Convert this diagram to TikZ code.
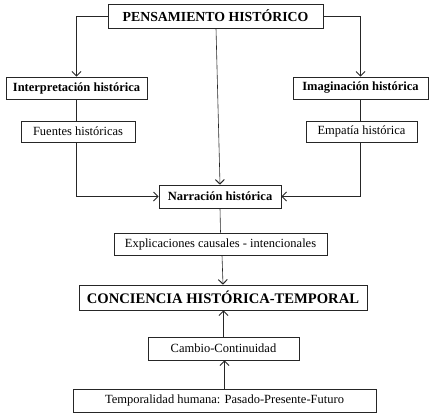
\documentclass[tikz,border=0pt]{standalone}
\usepackage{fontspec}
\setmainfont{Liberation Serif}
\usetikzlibrary{arrows.meta}
\begin{document}
\begin{tikzpicture}[x=1pt,y=-1pt,
  box/.style={draw=black!85,line width=0.6pt,inner sep=0pt,align=center},
  nf/.style={font=\fontsize{12.5}{14}\selectfont},
  bf/.style={font=\fontsize{12.5}{14}\selectfont\bfseries},
  arr/.style={draw=black!85,line width=0.6pt,-{Straight Barb[length=4.5pt,width=9pt,line width=1pt]}},
  ln/.style={draw=black!85,line width=0.6pt}]
\useasboundingbox (0,0) rectangle (435,418);
\node[box,minimum width=215pt,minimum height=24pt,font=\fontsize{13.8}{15}\selectfont\bfseries] (P) at (215.5,16) {PENSAMIENTO HISTÓRICO};
\node[box,bf,minimum width=141pt,minimum height=22pt] (I) at (76.5,88) {Interpretación histórica};
\node[box,nf,minimum width=114pt,minimum height=21pt] (F) at (78,131.5) {Fuentes históricas};
\node[box,bf,minimum width=135pt,minimum height=22pt] (M) at (360.5,88) {Imaginación histórica};
\node[box,nf,minimum width=111pt,minimum height=21pt] (E) at (361.5,131.5) {Empatía histórica};
\node[box,bf,minimum width=122pt,minimum height=23pt] (N) at (220,196.5) {Narración histórica};
\node[box,nf,minimum width=213pt,minimum height=22pt] (X) at (220.5,244) {Explicaciones causales - intencionales};
\node[box,minimum width=288pt,minimum height=25pt,font=\fontsize{14.6}{16}\selectfont\bfseries] (C) at (223,297.5) {CONCIENCIA HISTÓRICA-TEMPORAL};
\node[box,nf,minimum width=151pt,minimum height=23pt] (B) at (223.5,348.5) {Cambio-Continuidad};
\node[box,nf,minimum width=303pt,minimum height=23pt] (T) at (224.5,400.5) {Temporalidad humana: Pasado-Presente-Futuro};
\draw[arr] (P.west) -| (I.north);
\draw[ln] (I.south) -- (I.south |- F.north);
\draw[arr] (I.south |- F.south) |- (N.west);
\draw[arr] (P.east) -| (M.north);
\draw[ln] (M.south) -- (M.south |- E.north);
\draw[arr] (M.south |- E.south) |- (N.east);
\draw[arr] ([xshift=0.5pt]P.south) -- (N.north);
\draw[ln] (N.south) -- (X.north);
\draw[arr] ([xshift=1.5pt]X.south) -- (C.north);
\draw[arr] (B.north) -- (B.north |- C.south);
\draw[arr] (T.north) -- (T.north |- B.south);
\end{tikzpicture}
\end{document}
